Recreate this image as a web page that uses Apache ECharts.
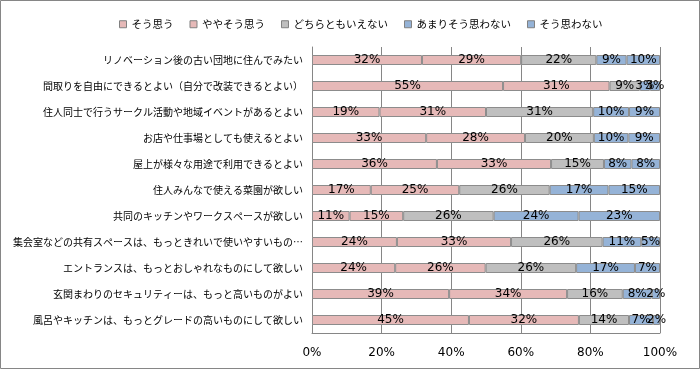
<!DOCTYPE html>
<html>
<head>
<meta charset="utf-8">
<script src="https://cdn.jsdelivr.net/npm/echarts@6/dist/echarts.min.js"></script>
<style>
html,body{margin:0;padding:0;background:#fff;}
#chart{width:700px;height:369px;}
</style>
</head>
<body>
<div id="chart"></div>
<script>
const categories = [
  "リノベーション後の古い団地に住んでみたい",
  "間取りを自由にできるとよい（自分で改装できるとよい）",
  "住人同士で行うサークル活動や地域イベントがあるとよい",
  "お店や仕事場としても使えるとよい",
  "屋上が様々な用途で利用できるとよい",
  "住人みんなで使える菜園が欲しい",
  "共同のキッチンやワークスペースが欲しい",
  "集会室などの共有スペースは、もっときれいで使いやすいもの…",
  "エントランスは、もっとおしゃれなものにして欲しい",
  "玄関まわりのセキュリティーは、もっと高いものがよい",
  "風呂やキッチンは、もっとグレードの高いものにして欲しい"
];
const seriesNames = ["そう思う", "ややそう思う", "どちらともいえない", "あまりそう思わない", "そう思わない"];
const soOmou        = [31.6, 54.9, 19.4, 32.8, 35.9, 16.9, 10.8, 24.4, 23.9, 39.4, 45.1];
const yayaSoOmou    = [28.5, 30.6, 30.6, 28.4, 32.8, 25.4, 15.4, 32.8, 26.0, 33.9, 31.6];
const dochiraTomo   = [21.6,  8.7, 30.8, 19.8, 15.2, 26.0, 26.0, 26.3, 26.0, 16.0, 14.4];
const amariOmowanai = [ 8.7,  2.9, 10.3,  9.9,  7.9, 16.9, 24.4, 11.1, 16.9,  8.3,  6.9];
const soOmowanai    = [ 9.6,  2.9,  8.9,  9.1,  8.2, 14.8, 23.4,  5.4,  7.2,  2.4,  2.0];
const xTicks = [0, 20, 40, 60, 80, 100];

const colors = ["#E6B9B8", "#E6B9B8", "#BFBFBF", "#95B3D7", "#95B3D7"];
const dataSets = [soOmou, yayaSoOmou, dochiraTomo, amariOmowanai, soOmowanai];

const chart = echarts.init(document.getElementById('chart'), null, {renderer: 'canvas'});
const option = {
  animation: false,
  backgroundColor: '#fff',
  color: colors,
  graphic: [{
    type: 'rect', shape: {x: 0.5, y: 0.5, width: 699, height: 368},
    style: {fill: 'none', stroke: '#868686', lineWidth: 1}, silent: true
  }],
  legend: {
    top: 14, left: 114,
    itemWidth: 7, itemHeight: 7, itemGap: 16,
    icon: 'rect',
    itemStyle: {borderColor: '#808080', borderWidth: 1},
    textStyle: {fontFamily: '"Noto Sans CJK JP"', fontSize: 10.5, color: '#000'},
    data: seriesNames
  },
  grid: {left: 312, right: 40, top: 47, bottom: 36, containLabel: false, outerBoundsMode: 'none'},
  xAxis: {
    type: 'value', min: 0, max: 100, interval: 20,
    axisLine: {show: true, lineStyle: {color: '#868686'}},
    axisTick: {show: false},
    splitLine: {show: true, lineStyle: {color: '#868686', width: 1}},
    axisLabel: {
      margin: 14, fontFamily: '"DejaVu Sans"', fontSize: 12, color: '#000',
      formatter: function (v) { return xTicks.indexOf(v) >= 0 ? v + '%' : ''; }
    }
  },
  yAxis: {
    type: 'category', data: categories, inverse: true,
    axisLine: {show: true, lineStyle: {color: '#868686'}},
    axisTick: {show: false},
    axisLabel: {margin: 9, fontFamily: '"Noto Sans CJK JP"', fontSize: 10, color: '#000'}
  },
  series: seriesNames.map(function (name, i) {
    return {
      name: name, type: 'bar', stack: 'total', barWidth: 10,
      data: dataSets[i],
      itemStyle: {color: colors[i], borderColor: '#8c8c8c', borderWidth: 1},
      label: {
        show: true, position: 'inside', color: '#000',
        fontFamily: '"DejaVu Sans"', fontSize: 12,
        formatter: function (p) { return Math.round(p.value) + '%'; }
      },
      labelLayout: {hideOverlap: false}
    };
  })
};
chart.setOption(option);
</script>
</body>
</html>
